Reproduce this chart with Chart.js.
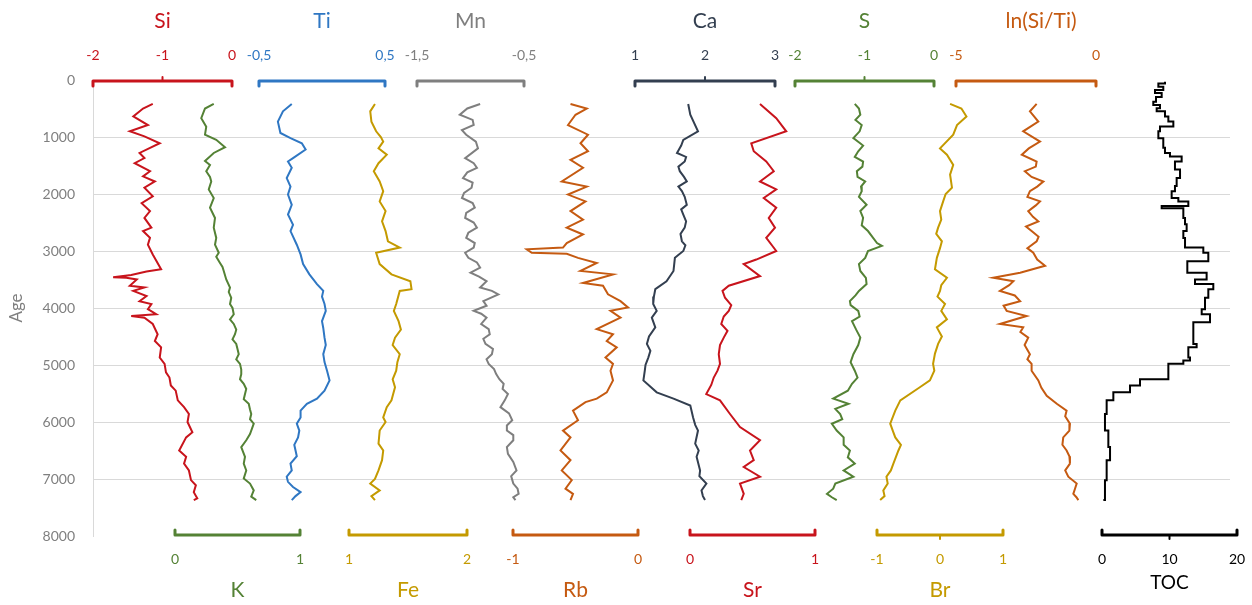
<!DOCTYPE html>
<html>
<head>
<meta charset="utf-8">
<script src="https://cdn.jsdelivr.net/npm/chart.js@4.4.0/dist/chart.umd.min.js"></script>
<style>
  html, body { margin: 0; padding: 0; background: #fff; }
</style>
</head>
<body>
<canvas id="chart" width="1252" height="605"></canvas>
<script>
// Age axis
const ageTicks = [0, 1000, 2000, 3000, 4000, 5000, 6000, 7000, 8000];

// Tick labels of each proxy axis
const siTicks = [-2, -1, 0];
const tiTicks = [-0.5, 0.5];
const mnTicks = [-1.5, -0.5];
const caTicks = [1, 2, 3];
const sTicks = [-2, -1, 0];
const lnTicks = [-5, 0];
const kTicks = [0, 1];
const feTicks = [1, 2];
const rbTicks = [-1, 0];
const srTicks = [0, 1];
const brTicks = [-1, 0, 1];
const tocTicks = [0, 10, 20];

// Series: [age, value]
const siData = [[420,-1.14],[500,-1.28],[640,-1.42],[790,-1.21],[900,-1.47],[990,-1.26],[1110,-1.04],[1280,-1.33],[1370,-1.26],[1460,-1.40],[1600,-1.18],[1690,-1.28],[1780,-1.11],[1890,-1.26],[2040,-1.14],[2160,-1.30],[2300,-1.18],[2420,-1.26],[2590,-1.16],[2650,-1.28],[2770,-1.18],[2890,-1.21],[3060,-1.14],[3320,-1.02],[3360,-1.23],[3420,-1.45],[3460,-1.71],[3470,-1.52],[3500,-1.37],[3610,-1.47],[3640,-1.26],[3700,-1.42],[3790,-1.23],[3880,-1.33],[3930,-1.16],[4020,-1.21],[4110,-1.09],[4140,-1.45],[4170,-1.26],[4280,-1.14],[4460,-1.07],[4580,-1.11],[4690,-1.02],[4870,-1.04],[4980,-0.97],[5130,-0.95],[5220,-0.90],[5360,-0.88],[5450,-0.81],[5620,-0.78],[5740,-0.69],[5860,-0.62],[6000,-0.64],[6180,-0.57],[6270,-0.66],[6500,-0.76],[6610,-0.66],[6730,-0.69],[6850,-0.62],[7020,-0.59],[7110,-0.52],[7230,-0.55],[7340,-0.50],[7370,-0.55]];

const kData = [[420,0.31],[500,0.24],[670,0.21],[820,0.25],[960,0.24],[1050,0.33],[1180,0.40],[1280,0.31],[1420,0.24],[1490,0.28],[1600,0.25],[1700,0.28],[1780,0.29],[1920,0.27],[2070,0.31],[2240,0.28],[2420,0.32],[2590,0.31],[2770,0.33],[2890,0.32],[3030,0.35],[3100,0.33],[3210,0.36],[3280,0.38],[3350,0.39],[3500,0.41],[3640,0.44],[3720,0.43],[3820,0.45],[3930,0.44],[4000,0.46],[4110,0.47],[4200,0.44],[4280,0.47],[4380,0.49],[4460,0.48],[4550,0.46],[4630,0.49],[4720,0.50],[4810,0.51],[4900,0.49],[4980,0.52],[5080,0.53],[5160,0.53],[5250,0.52],[5330,0.55],[5420,0.57],[5510,0.56],[5600,0.55],[5680,0.59],[5780,0.60],[5860,0.61],[5950,0.60],[6030,0.63],[6210,0.60],[6320,0.57],[6440,0.53],[6610,0.56],[6730,0.55],[6850,0.57],[6990,0.55],[7080,0.60],[7200,0.63],[7310,0.61],[7370,0.65]];

const tiData = [[420,-0.24],[550,-0.31],[730,-0.35],[930,-0.33],[1020,-0.25],[1110,-0.16],[1220,-0.13],[1370,-0.23],[1430,-0.27],[1540,-0.24],[1720,-0.28],[1870,-0.25],[2010,-0.27],[2190,-0.24],[2360,-0.27],[2540,-0.23],[2650,-0.25],[2890,-0.20],[3060,-0.17],[3230,-0.15],[3410,-0.10],[3580,-0.04],[3700,0.01],[3800,0.00],[3930,0.02],[4050,0.03],[4230,0.00],[4350,0.01],[4520,0.02],[4650,0.03],[4810,0.01],[4950,0.02],[5100,0.04],[5270,0.06],[5450,0.02],[5590,-0.04],[5680,-0.12],[5800,-0.17],[5920,-0.17],[6030,-0.20],[6150,-0.18],[6270,-0.19],[6400,-0.22],[6500,-0.21],[6600,-0.20],[6730,-0.25],[6850,-0.24],[6960,-0.28],[7050,-0.27],[7140,-0.23],[7230,-0.17],[7300,-0.21],[7370,-0.24]];

const feData = [[420,1.22],[550,1.18],[730,1.19],[900,1.23],[1000,1.27],[1080,1.29],[1200,1.25],[1310,1.32],[1460,1.25],[1600,1.21],[1780,1.26],[1950,1.29],[2130,1.26],[2300,1.31],[2480,1.28],[2650,1.31],[2830,1.33],[2940,1.43],[3030,1.23],[3230,1.26],[3410,1.36],[3530,1.52],[3670,1.53],[3700,1.43],[3930,1.40],[4050,1.38],[4230,1.42],[4380,1.44],[4520,1.39],[4650,1.37],[4810,1.43],[4950,1.41],[5100,1.40],[5250,1.37],[5390,1.39],[5620,1.36],[5740,1.32],[5920,1.29],[6000,1.31],[6150,1.26],[6380,1.25],[6500,1.29],[6670,1.28],[6850,1.25],[7000,1.22],[7080,1.18],[7200,1.26],[7300,1.19],[7370,1.22]];

const mnData = [[420,-0.91],[500,-1.03],[610,-1.10],[700,-0.98],[790,-0.97],[880,-1.08],[960,-1.04],[1080,-0.95],[1200,-0.93],[1370,-1.05],[1460,-0.97],[1540,-0.94],[1620,-1.03],[1720,-1.07],[1800,-0.98],[1890,-0.99],[1980,-1.06],[2070,-1.08],[2160,-0.98],[2240,-0.96],[2330,-1.04],[2420,-1.05],[2500,-0.97],[2590,-0.94],[2680,-1.02],[2770,-1.04],[2860,-0.96],[2940,-0.97],[3030,-1.05],[3120,-1.02],[3200,-0.94],[3290,-0.91],[3380,-1.00],[3450,-0.92],[3530,-0.85],[3640,-0.91],[3700,-0.80],[3760,-0.74],[3880,-0.88],[3960,-0.85],[4050,-0.97],[4100,-0.90],[4170,-0.85],[4280,-0.90],[4370,-0.83],[4460,-0.82],[4540,-0.88],[4630,-0.86],[4720,-0.79],[4810,-0.80],[4900,-0.85],[4980,-0.83],[5070,-0.78],[5160,-0.76],[5250,-0.73],[5330,-0.69],[5420,-0.70],[5510,-0.65],[5620,-0.68],[5740,-0.72],[5850,-0.64],[5970,-0.61],[6060,-0.66],[6150,-0.66],[6230,-0.60],[6320,-0.60],[6440,-0.66],[6560,-0.65],[6700,-0.60],[6850,-0.57],[6950,-0.62],[7080,-0.60],[7170,-0.56],[7260,-0.55],[7320,-0.60],[7370,-0.58]];

const rbData = [[420,-0.54],[500,-0.41],[610,-0.50],[790,-0.56],[960,-0.40],[1110,-0.46],[1250,-0.40],[1400,-0.54],[1540,-0.44],[1780,-0.61],[1870,-0.41],[2010,-0.56],[2130,-0.42],[2300,-0.54],[2450,-0.44],[2590,-0.57],[2710,-0.44],[2860,-0.57],[2940,-0.60],[2970,-0.89],[3030,-0.85],[3050,-0.57],[3120,-0.48],[3210,-0.33],[3350,-0.46],[3410,-0.20],[3560,-0.44],[3610,-0.28],[3760,-0.24],[3880,-0.14],[3990,-0.08],[4050,-0.22],[4170,-0.14],[4370,-0.33],[4460,-0.20],[4580,-0.25],[4690,-0.17],[4870,-0.26],[4980,-0.20],[5100,-0.22],[5270,-0.20],[5480,-0.25],[5590,-0.33],[5650,-0.42],[5800,-0.52],[5970,-0.48],[6150,-0.60],[6270,-0.54],[6500,-0.62],[6670,-0.54],[6850,-0.61],[7020,-0.53],[7170,-0.58],[7260,-0.52],[7370,-0.54]];

const caData = [[420,1.76],[610,1.79],[900,1.90],[1050,1.69],[1150,1.66],[1280,1.60],[1350,1.73],[1430,1.71],[1520,1.62],[1600,1.64],[1700,1.70],[1780,1.74],[1870,1.62],[1950,1.67],[2050,1.71],[2190,1.74],[2270,1.66],[2360,1.69],[2480,1.73],[2590,1.71],[2700,1.65],[2830,1.67],[2900,1.72],[3000,1.69],[3120,1.57],[3350,1.55],[3530,1.45],[3670,1.29],[3800,1.27],[3930,1.26],[4050,1.31],[4170,1.24],[4340,1.29],[4500,1.20],[4630,1.17],[4750,1.22],[4870,1.19],[5000,1.15],[5100,1.14],[5270,1.12],[5480,1.31],[5590,1.55],[5710,1.79],[5920,1.83],[6050,1.86],[6150,1.90],[6380,1.86],[6500,1.91],[6610,1.88],[6850,1.93],[6950,1.92],[7080,2.02],[7200,1.95],[7300,1.97],[7370,2.00]];

const srData = [[420,0.56],[670,0.69],[900,0.77],[1110,0.49],[1250,0.51],[1430,0.61],[1600,0.67],[1780,0.56],[1920,0.69],[2070,0.59],[2240,0.69],[2420,0.63],[2590,0.68],[2770,0.61],[3000,0.69],[3150,0.53],[3230,0.43],[3440,0.56],[3610,0.31],[3700,0.26],[3820,0.28],[3950,0.33],[4050,0.31],[4150,0.27],[4280,0.25],[4400,0.30],[4520,0.27],[4650,0.24],[4810,0.23],[4980,0.24],[5100,0.22],[5220,0.19],[5350,0.17],[5510,0.13],[5620,0.24],[5860,0.32],[6090,0.40],[6320,0.56],[6500,0.48],[6670,0.51],[6790,0.43],[6960,0.56],[7080,0.40],[7260,0.43],[7370,0.41]];

const sData = [[420,-1.14],[500,-1.08],[610,-1.06],[700,-1.13],[790,-1.04],[900,-1.07],[1020,-1.16],[1150,-1.02],[1250,-1.09],[1350,-1.14],[1430,-1.02],[1520,-1.03],[1600,-1.11],[1700,-1.10],[1780,-0.99],[1870,-1.05],[1950,-1.04],[2050,-1.08],[2190,-0.97],[2300,-1.06],[2420,-1.02],[2550,-1.04],[2650,-0.95],[2860,-0.82],[2910,-0.75],[3000,-0.95],[3120,-0.99],[3230,-1.08],[3350,-1.06],[3470,-0.98],[3580,-0.97],[3700,-1.08],[3780,-1.13],[3880,-1.21],[3950,-1.20],[4050,-1.09],[4150,-1.07],[4230,-1.18],[4380,-1.12],[4520,-1.06],[4650,-1.09],[4810,-1.16],[4950,-1.20],[5100,-1.14],[5220,-1.10],[5330,-1.18],[5450,-1.24],[5590,-1.45],[5680,-1.23],[5770,-1.42],[5860,-1.35],[5950,-1.32],[6030,-1.47],[6150,-1.40],[6270,-1.30],[6400,-1.30],[6500,-1.21],[6620,-1.24],[6730,-1.14],[6850,-1.30],[6960,-1.16],[7080,-1.42],[7170,-1.45],[7260,-1.54],[7320,-1.47],[7370,-1.40]];

const brData = [[420,0.16],[500,0.34],[640,0.42],[790,0.27],[960,0.21],[1200,0.00],[1310,0.11],[1490,0.21],[1660,0.16],[1890,0.19],[2000,0.09],[2130,0.05],[2300,0.00],[2450,0.02],[2590,-0.03],[2700,-0.06],[2830,0.03],[2950,0.00],[3120,-0.05],[3320,-0.08],[3470,0.11],[3600,0.02],[3700,0.00],[3800,-0.04],[3930,0.08],[4050,0.02],[4200,0.11],[4340,-0.05],[4500,0.03],[4630,-0.03],[4800,-0.08],[4980,-0.11],[5100,-0.09],[5270,-0.16],[5390,-0.32],[5620,-0.63],[5800,-0.71],[6030,-0.79],[6150,-0.75],[6270,-0.71],[6400,-0.62],[6500,-0.66],[6730,-0.74],[6850,-0.78],[6960,-0.85],[7080,-0.83],[7200,-0.90],[7300,-0.88],[7370,-0.95]];

const lnData = [[420,-2.12],[550,-2.36],[730,-2.06],[900,-2.60],[1080,-2.00],[1200,-2.40],[1310,-2.65],[1430,-2.12],[1520,-2.15],[1600,-2.54],[1700,-2.30],[1780,-1.88],[1870,-2.10],[1950,-2.36],[2050,-2.45],[2130,-2.00],[2200,-2.15],[2300,-2.42],[2400,-2.25],[2480,-2.06],[2570,-2.50],[2650,-2.30],[2750,-2.05],[2830,-2.12],[2950,-2.45],[3030,-2.24],[3150,-2.10],[3260,-1.82],[3380,-2.71],[3470,-3.67],[3530,-2.95],[3600,-3.10],[3700,-3.43],[3780,-2.90],[3880,-2.71],[3960,-3.30],[4050,-3.19],[4140,-2.48],[4280,-3.43],[4340,-2.60],[4420,-2.70],[4520,-2.42],[4650,-2.55],[4810,-2.36],[4900,-2.45],[4980,-2.30],[5100,-2.30],[5270,-2.06],[5400,-1.95],[5540,-1.76],[5680,-1.40],[5800,-1.05],[5900,-1.10],[6030,-0.93],[6150,-0.95],[6270,-1.17],[6400,-1.20],[6500,-1.05],[6600,-0.95],[6730,-0.93],[6850,-1.10],[6960,-0.99],[7080,-0.69],[7170,-0.75],[7260,-0.81],[7320,-0.70],[7370,-0.63]];

const tocData = [[30,9.33],[60,8.35],[120,9.08],[175,7.85],[230,8.84],[300,8.00],[380,7.60],[440,8.59],[495,8.10],[550,9.33],[640,9.83],[730,10.57],[815,8.59],[900,8.35],[1020,9.08],[1190,9.33],[1280,10.07],[1340,11.80],[1430,10.81],[1570,11.56],[1720,11.06],[1860,10.81],[1950,10.32],[2070,11.31],[2130,12.79],[2210,8.84],[2250,12.05],[2420,12.30],[2530,12.54],[2650,12.05],[2770,12.30],[2940,15.01],[3030,15.75],[3180,12.64],[3380,15.50],[3500,13.78],[3580,16.49],[3670,15.75],[3820,15.26],[4020,14.77],[4110,16.00],[4250,13.53],[4630,14.02],[4690,12.79],[4870,13.04],[4920,12.05],[4980,9.83],[5250,5.63],[5360,4.15],[5480,1.68],[5620,0.69],[5860,0.44],[6150,0.94],[6440,1.19],[6670,0.69],[7020,0.44],[7370,0.20]];

// plot area edges (px), fixed through layout padding
const L = 93, R = 1230;

// one horizontal scale per proxy; px = where first/last tick sits
const proxies = [
  { key: 'Si', label: 'Si', data: siData, ticks: siTicks, side: 'top', color: '#C8141C', px: [93, 232] },
  { key: 'Ti', label: 'Ti', data: tiData, ticks: tiTicks, side: 'top', color: '#2F77C3', px: [259, 385] },
  { key: 'Mn', label: 'Mn', data: mnData, ticks: mnTicks, side: 'top', color: '#7F7F7F', px: [417, 524] },
  { key: 'Ca', label: 'Ca', data: caData, ticks: caTicks, side: 'top', color: '#333F50', px: [635, 775] },
  { key: 'S', label: 'S', data: sData, ticks: sTicks, side: 'top', color: '#548235', px: [795, 934] },
  { key: 'Ln', label: 'ln(Si/Ti)', data: lnData, ticks: lnTicks, side: 'top', color: '#C55A11', px: [956, 1096], shift: 15 },
  { key: 'K', label: 'K', data: kData, ticks: kTicks, side: 'bottom', color: '#548235', px: [175, 300] },
  { key: 'Fe', label: 'Fe', data: feData, ticks: feTicks, side: 'bottom', color: '#C49A00', px: [349, 467] },
  { key: 'Rb', label: 'Rb', data: rbData, ticks: rbTicks, side: 'bottom', color: '#C55A11', px: [513, 638] },
  { key: 'Sr', label: 'Sr', data: srData, ticks: srTicks, side: 'bottom', color: '#C8141C', px: [690, 815] },
  { key: 'Br', label: 'Br', data: brData, ticks: brTicks, side: 'bottom', color: '#C49A00', px: [877, 1003] },
  { key: 'TOC', label: 'TOC', data: tocData, ticks: tocTicks, side: 'bottom', color: '#000000', px: [1102, 1237], stepped: 'after' }
];

const FONT = "Lato, 'Open Sans', sans-serif";
Chart.defaults.font.family = FONT;

function fmt(v) {
  return String(v).replace('.', ',');
}

const scales = {
  y: {
    type: 'linear',
    reverse: true,
    min: 0,
    max: 8000,
    afterFit: s => { s.width = L; },
    afterBuildTicks: s => { s.ticks = ageTicks.map(v => ({ value: v })); },
    ticks: { color: '#7F7F7F', font: { size: 14 }, padding: 18, callback: v => String(v) },
    grid: {
      drawTicks: false,
      color: c => (c.tick && (c.tick.value === 0 || c.tick.value === 8000)) ? 'rgba(0,0,0,0)' : '#D9D9D9'
    },
    border: { color: '#D9D9D9' },
    title: { display: true, text: 'Age', color: '#7F7F7F', font: { size: 17 }, padding: { top: 6 } }
  }
};

proxies.forEach(p => {
  const a = p.ticks[0], b = p.ticks[p.ticks.length - 1];
  const u = (b - a) / (p.px[1] - p.px[0]);
  scales['x' + p.key] = {
    type: 'linear', axis: 'x', display: false,
    min: a - (p.px[0] - L) * u,
    max: b + (R - p.px[1]) * u
  };
});

// brackets, tick labels and names above / below the plot
const bracketPlugin = {
  id: 'brackets',
  afterDraw(chart) {
    const ctx = chart.ctx;
    const area = chart.chartArea;
    proxies.forEach(p => {
      const sc = chart.scales['x' + p.key];
      const t = p.ticks;
      const x0 = sc.getPixelForValue(t[0]);
      const x1 = sc.getPixelForValue(t[t.length - 1]);
      const top = p.side === 'top';
      const y = top ? area.top + 1 : area.bottom - 1;
      const hook = top ? 5 : -5;

      ctx.save();
      ctx.strokeStyle = p.color;
      ctx.lineWidth = 3;
      ctx.lineJoin = 'round';
      ctx.lineCap = 'round';
      ctx.beginPath();
      ctx.moveTo(x0, y + hook);
      ctx.lineTo(x0, y);
      ctx.lineTo(x1, y);
      ctx.lineTo(x1, y + hook);
      ctx.stroke();
      if (t.length === 3) {
        const xm = sc.getPixelForValue(t[1]);
        ctx.lineWidth = 2;
        ctx.beginPath();
        ctx.moveTo(xm, y - hook * 0.8);
        ctx.lineTo(xm, y);
        ctx.stroke();
      }

      ctx.fillStyle = p.color;
      ctx.textAlign = 'center';
      ctx.textBaseline = 'middle';
      ctx.font = '14px ' + FONT;
      t.forEach(v => {
        ctx.fillText(fmt(v), sc.getPixelForValue(v), top ? area.top - 25 : area.bottom + 23);
      });

      const big = p.key === 'TOC';
      ctx.font = (big ? '19px ' : '21px ') + FONT;
      ctx.fillText(p.label, (x0 + x1) / 2 + (p.shift || 0), top ? 21 : (big ? 583 : 590));
      ctx.restore();
    });
  }
};

new Chart(document.getElementById('chart'), {
  type: 'scatter',
  data: {
    datasets: proxies.map(p => ({
      label: p.label,
      data: p.data.map(d => ({ x: d[1], y: d[0] })),
      xAxisID: 'x' + p.key,
      yAxisID: 'y',
      showLine: true,
      borderColor: p.color,
      backgroundColor: p.color,
      borderWidth: 2,
      pointRadius: 0,
      tension: 0,
      stepped: p.stepped || false
    }))
  },
  options: {
    responsive: false,
    animation: false,
    devicePixelRatio: 1,
    layout: { padding: { left: 0, right: 1252 - R, top: 80, bottom: 69 } },
    scales: scales,
    plugins: {
      legend: { display: false },
      tooltip: { enabled: false }
    }
  },
  plugins: [bracketPlugin]
});
</script>
</body>
</html>
